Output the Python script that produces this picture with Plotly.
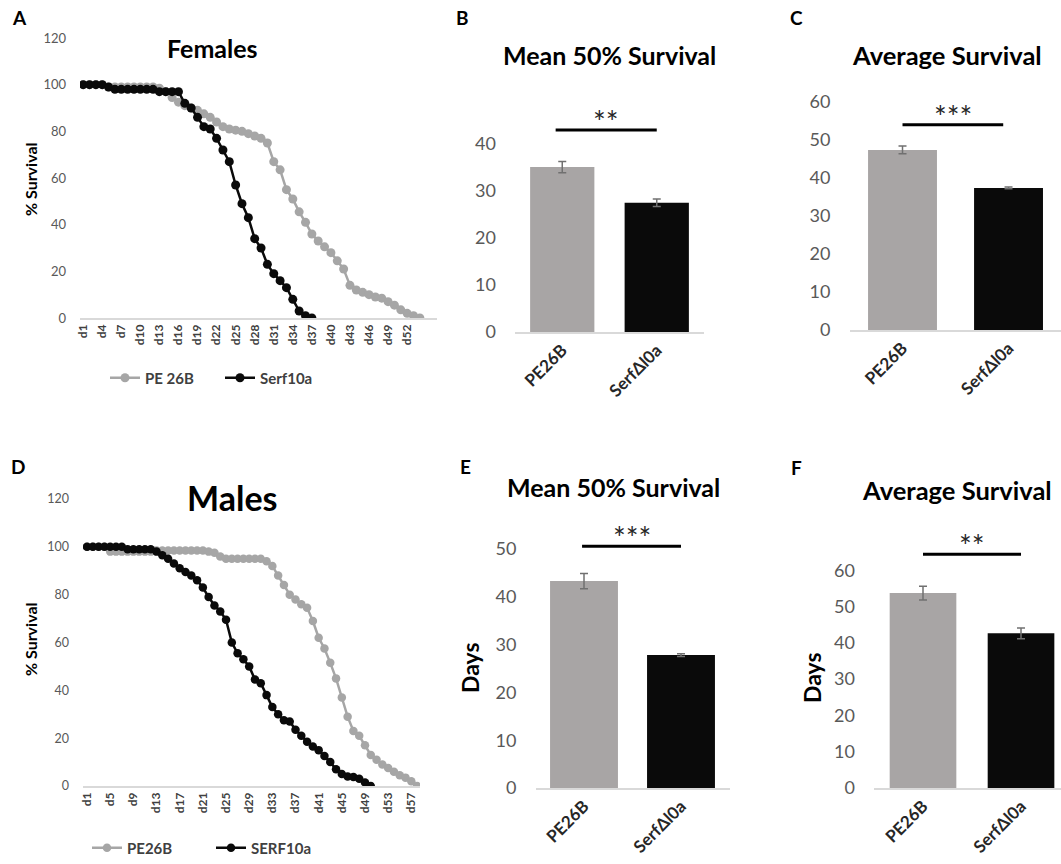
import plotly.graph_objects as go

W, H = 1061, 864

# ---------------- data ----------------
fem_days = [f"d{i}" for i in range(1, 55)]
fem_pe26b = [100, 100, 100, 100, 99, 99, 99, 99, 99, 99, 99, 99, 98.5, 97, 94.5, 92.5,
             91, 90, 89, 87.5, 86, 84, 82, 81, 80.5, 80, 79, 78, 77, 75, 67, 63.5, 55,
             51, 45.5, 41, 36, 33, 30.5, 28, 24.5, 21, 14, 12, 11, 10, 9, 8.5, 7, 5.5,
             3.5, 2, 1, 0]
fem_serf = [100, 100, 100, 100, 99, 98, 98, 98, 98, 98, 98, 98, 97, 97, 97, 97, 92, 90,
            86, 82, 81, 77, 72, 67, 57, 49, 43, 34, 30, 23, 19, 16, 13, 8, 3, 1, 0]
fem_ticks = [f"d{i}" for i in range(1, 55, 3)]

male_days = [f"d{i}" for i in range(1, 59)]
male_pe26b = [100, 100, 100, 100, 98, 98, 98, 98, 98, 98, 98, 98, 98.5, 98.5, 98.5, 98.5,
              98.5, 98.5, 98.5, 98.5, 98.5, 98, 97.5, 96, 95, 95, 95, 95, 95, 95, 95, 94,
              92, 88, 84, 80, 78, 76, 74.5, 69, 62, 57.5, 51.5, 45, 37, 29, 23, 21, 17,
              13, 11, 9, 7.5, 6, 4.5, 3.5, 2, 0]
male_serf = [100, 100, 100, 100, 100, 100, 100, 99, 99, 99, 99, 99, 98, 96.5, 95, 93, 91,
             89.5, 88, 86, 83, 79, 75.5, 73, 69.5, 60, 55.5, 53, 50, 44.5, 43, 38, 33, 30,
             27.5, 27, 23.5, 21, 18.5, 16.5, 15, 12.5, 10, 7, 5, 4, 3.8, 3, 1.5, 0]
male_ticks = [f"d{i}" for i in range(1, 59, 4)]

bar_cats = ["PE26B", "SerfΔl0a"]
b_mean = [35.1, 27.5]
b_err = [1.2, 0.8]
c_mean = [47.4, 37.4]
c_err = [1.0, 0.2]
e_mean = [43.3, 27.8]
e_err = [1.6, 0.3]
f_mean = [53.7, 42.6]
f_err = [1.9, 1.5]
sig_labels = ["**", "***", "***", "**"]
sig_heights = [43.0, 54.0, 50.6, 64.4]

GRAY = "#a8a5a5"
BLACK = "#0a0a0a"
LGRAY = "#a6a6a6"
FONT = "Lato, 'Open Sans', sans-serif"


def X(px):
    return px / W


def Y(py):
    return 1 - py / H


fig = go.Figure()

# ---- line charts ----
fig.add_trace(go.Scatter(x=fem_days[:len(fem_pe26b)], y=fem_pe26b, mode="lines+markers",
                         name="PE 26B", line=dict(color=LGRAY, width=2.5),
                         marker=dict(size=9, color=LGRAY), xaxis="x", yaxis="y",
                         legend="legend"))
fig.add_trace(go.Scatter(x=fem_days[:len(fem_serf)], y=fem_serf, mode="lines+markers",
                         name="Serf10a", line=dict(color=BLACK, width=2.5),
                         marker=dict(size=9, color=BLACK), xaxis="x", yaxis="y",
                         legend="legend"))
fig.add_trace(go.Scatter(x=male_days[:len(male_pe26b)], y=male_pe26b, mode="lines+markers",
                         name="PE26B", line=dict(color=LGRAY, width=2.5),
                         marker=dict(size=8.5, color=LGRAY), xaxis="x4", yaxis="y4",
                         legend="legend2"))
fig.add_trace(go.Scatter(x=male_days[:len(male_serf)], y=male_serf, mode="lines+markers",
                         name="SERF10a", line=dict(color=BLACK, width=2.5),
                         marker=dict(size=8.5, color=BLACK), xaxis="x4", yaxis="y4",
                         legend="legend2"))

# ---- bar charts ----
bar_specs = [("x2", "y2", b_mean, b_err, 0.68), ("x3", "y3", c_mean, c_err, 0.65),
             ("x5", "y5", e_mean, e_err, 0.70), ("x6", "y6", f_mean, f_err, 0.68)]
for xa, ya, means, errs, bw in bar_specs:
    fig.add_trace(go.Bar(x=bar_cats, y=means, marker=dict(color=[GRAY, BLACK], line=dict(width=0)),
                         width=bw,
                         error_y=dict(type="data", array=errs, color="#707070", thickness=1.5, width=4),
                         xaxis=xa, yaxis=ya, showlegend=False))

xt_small = dict(family=FONT, size=12, color="#404040", weight="bold")

layout = dict(
    width=W, height=H, margin=dict(l=0, r=0, t=0, b=0, autoexpand=False),
    paper_bgcolor="white", plot_bgcolor="white", font=dict(family=FONT),
    # Panel A
    xaxis=dict(domain=[X(80), X(437)], type="category", categoryorder="array",
               categoryarray=fem_days, range=[-0.5, 55.7], tickmode="array",
               tickvals=fem_ticks, tickangle=-90, tickfont=xt_small, showgrid=False,
               showline=True, linecolor="#d9d9d9", linewidth=1.5, ticks="", zeroline=False,
               anchor="y"),
    yaxis=dict(domain=[Y(318), Y(38)], range=[0, 120], tickvals=[0, 20, 40, 60, 80, 100, 120],
               tickfont=dict(family=FONT, size=13, color="#595959"), showgrid=False,
               showline=False, zeroline=False, ticks="", ticklabelstandoff=13, anchor="x"),
    # Panel D
    xaxis4=dict(domain=[X(83), X(420)], type="category", categoryorder="array",
                categoryarray=male_days, range=[-0.7, 57.5], tickmode="array",
                tickvals=male_ticks, tickangle=-90, tickfont=xt_small, showgrid=False,
                showline=True, linecolor="#d9d9d9", linewidth=1.5, ticks="", zeroline=False,
                anchor="y4"),
    yaxis4=dict(domain=[Y(786), Y(499)], range=[0, 120], tickvals=[0, 20, 40, 60, 80, 100, 120],
                tickfont=dict(family=FONT, size=12.5, color="#595959"), showgrid=False,
                showline=False, zeroline=False, ticks="", ticklabelstandoff=13, anchor="x4"),
)

bar_font_y = dict(family=FONT, size=18, color="#595959")
bar_font_x = dict(family=FONT, size=17, color="#262626", weight="bold")


def bar_axes(n, xdom, ydom, xrange, yrange, ytv):
    layout[f"xaxis{n}"] = dict(domain=xdom, type="category", range=xrange, tickangle=-45,
                               tickfont=bar_font_x, showgrid=False, showline=True,
                               linecolor="#d9d9d9", linewidth=1.5, ticks="", zeroline=False,
                               anchor=f"y{n}")
    layout[f"yaxis{n}"] = dict(domain=ydom, range=yrange, tickvals=ytv, tickfont=bar_font_y,
                               showgrid=False, showline=False, zeroline=False, ticks="",
                               ticklabelstandoff=18, anchor=f"x{n}")


# B  (0 at y=332, 4.7 px per unit)
bar_axes(2, [X(515), X(704)], [Y(332), Y(332 - 48 * 4.7)], [-0.5, 1.5], [0, 48], [0, 10, 20, 30, 40])
# C  (0 at y=330, 3.8 px per unit)
bar_axes(3, [X(849.5), 1.0], [Y(330), Y(330 - 62 * 3.8)], [-0.5, 1.495], [0, 62], [0, 10, 20, 30, 40, 50, 60])
# E  (0 at y=788, 4.78 px per unit)
bar_axes(5, [X(535.5), X(729.5)], [Y(788), Y(788 - 56 * 4.78)], [-0.5, 1.5], [0, 56], [0, 10, 20, 30, 40, 50])
# F  (0 at y=788, 3.63 px per unit)
bar_axes(6, [X(874), 1.0], [Y(788), Y(788 - 70 * 3.63)], [-0.5, 1.408], [0, 70], [0, 10, 20, 30, 40, 50, 60])

# legends
layout["legend"] = dict(orientation="h", x=X(105), y=Y(378), xanchor="left", yanchor="middle",
                        font=dict(family=FONT, size=15, color="#404040", weight="bold"),
                        entrywidth=70, bgcolor="rgba(0,0,0,0)", itemclick=False)
layout["legend2"] = dict(orientation="h", x=X(87), y=Y(848), xanchor="left", yanchor="middle",
                         font=dict(family=FONT, size=15, color="#404040", weight="bold"),
                         entrywidth=79, bgcolor="rgba(0,0,0,0)", itemclick=False)

fig.update_layout(**layout)

# significance bars and stars
shapes = []
annotations = []
sig_axes = [("x2", "y2", -0.07, 1.0), ("x3", "y3", -0.0, 0.95), ("x5", "y5", -0.02, 1.0), ("x6", "y6", 0.0, 1.0)]
for (xa, ya, x0, x1), lab, h in zip(sig_axes, sig_labels, sig_heights):
    shapes.append(dict(type="line", xref=xa, yref=ya, x0=x0, x1=x1, y0=h, y1=h,
                       line=dict(color="black", width=3)))
    annotations.append(dict(xref=xa, yref=ya, x=(x0 + x1) / 2, y=h, text=lab, showarrow=False,
                            yanchor="middle", yshift=9,
                            font=dict(family=FONT, size=30, color="#262626")))

# titles
titles = [("Females", 212, 48, 25), ("Males", 232, 497, 34),
          ("Mean 50% Survival", 609, 55, 25), ("Average Survival", 947, 55, 25.5),
          ("Mean 50% Survival", 613, 487, 25), ("Average Survival", 957, 490, 25.5)]
for t, x, y, s in titles:
    annotations.append(dict(xref="paper", yref="paper", x=X(x), y=Y(y), text=t, showarrow=False,
                            xanchor="center", yanchor="middle",
                            font=dict(family=FONT, size=s, color="black", weight="bold")))

letters = [("A", 19, 17), ("B", 462, 17), ("C", 796, 17), ("D", 18, 466), ("E", 465, 466), ("F", 796, 467)]
for t, x, y in letters:
    annotations.append(dict(xref="paper", yref="paper", x=X(x), y=Y(y), text=t, showarrow=False,
                            xanchor="center", yanchor="middle",
                            font=dict(family=FONT, size=19, color="black", weight="bold")))

ytitles = [("% Survival", 30, 180, 16), ("% Survival", 30, 640, 16), ("Days", 470, 668, 23), ("Days", 812, 678, 23)]
for t, x, y, s in ytitles:
    annotations.append(dict(xref="paper", yref="paper", x=X(x), y=Y(y), text=t, showarrow=False,
                            textangle=-90, xanchor="center", yanchor="middle",
                            font=dict(family=FONT, size=s, color="black", weight="bold")))

fig.update_layout(shapes=shapes, annotations=annotations)
fig.write_html("out.html", config={"displayModeBar": False},
               post_script="document.body.style.margin='0';document.body.style.overflow='hidden';")
